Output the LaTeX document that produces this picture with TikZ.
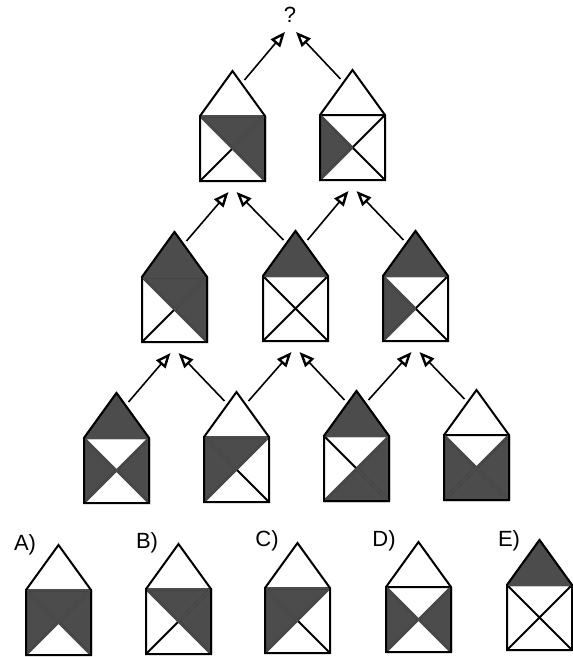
\documentclass[tikz,border=0pt]{standalone}
\usepackage{fontspec}
\setmainfont{Liberation Sans}
\usetikzlibrary{arrows.meta}

\colorlet{dark}{black!70}
\tikzset{
  wt/.style={fill=white},
  dk/.style={fill=dark},
  wt rim/.style={},
  dk rim/.style={draw=dark, line width=2pt, line join=round},
  edge/.style={line width=2pt, line join=miter},
  arr/.style={line width=1.6pt, -{Triangle[open,length=15pt,width=12pt,line width=2.4pt]}},
  lbl/.style={font=\fontsize{22}{24}\selectfont, inner sep=0pt}
}

% #1 name, #2 left, #3 top of square, #4 roof, #5 top, #6 right, #7 bottom, #8 left
\newcommand{\house}[8]{%
\begin{scope}[shift={(#2,#3)}]
\path[#4] (0,0) -- (32.5,-45) -- (65,0) -- cycle;
\path[#5] (0,0) -- (65,0) -- (32.5,32.5) -- cycle;
\path[#6] (65,0) -- (65,65) -- (32.5,32.5) -- cycle;
\path[#7] (0,65) -- (65,65) -- (32.5,32.5) -- cycle;
\path[#8] (0,0) -- (0,65) -- (32.5,32.5) -- cycle;
\draw[edge] (0,0) -- (65,65) (65,0) -- (0,65) (0,0) -- (65,0);
\path[#4 rim] (0,0) -- (32.5,-45) -- (65,0) -- cycle;
\path[#5 rim] (0,0) -- (65,0) -- (32.5,32.5) -- cycle;
\path[#6 rim] (65,0) -- (65,65) -- (32.5,32.5) -- cycle;
\path[#7 rim] (0,65) -- (65,65) -- (32.5,32.5) -- cycle;
\path[#8 rim] (0,0) -- (0,65) -- (32.5,32.5) -- cycle;
\draw[edge] (65,0) -- (32.5,-45) -- (0,0) -- (0,65) -- (65,65) -- (65,0) -- (32.5,-45);
\coordinate (#1-sl) at (20.5,-36);
\coordinate (#1-sr) at (44.5,-36);
\coordinate (#1-tl) at (28.5,76);
\coordinate (#1-tr) at (36.5,76);
\end{scope}}

\begin{document}
\begin{tikzpicture}[x=1pt,y=-1pt]
\useasboundingbox (0,0) rectangle (573,657);

\node[lbl] (q) at (290,15) {?};

\house{h1a}{200}{116}{wt}{dk}{dk}{wt}{wt}
\house{h1b}{320}{115}{wt}{wt}{wt}{wt}{dk}

\house{h2a}{142}{277}{dk}{dk}{dk}{wt}{wt}
\house{h2b}{263}{276}{dk}{wt}{wt}{wt}{wt}
\house{h2c}{383}{276}{dk}{wt}{wt}{wt}{dk}

\house{h3a}{84}{438}{dk}{wt}{dk}{wt}{dk}
\house{h3b}{204}{437}{wt}{dk}{wt}{wt}{dk}
\house{h3c}{324}{436}{dk}{wt}{dk}{dk}{wt}
\house{h3d}{444}{435}{wt}{wt}{dk}{dk}{dk}

\draw[arr] (h1a-sr) -- ([xshift=-5pt,yshift=-9pt]q.south);
\draw[arr] (h1b-sl) -- ([xshift=6pt,yshift=-9pt]q.south);

\draw[arr] (h2a-sr) -- (h1a-tl);
\draw[arr] (h2b-sl) -- (h1a-tr);
\draw[arr] (h2b-sr) -- (h1b-tl);
\draw[arr] (h2c-sl) -- (h1b-tr);

\draw[arr] (h3a-sr) -- (h2a-tl);
\draw[arr] (h3b-sl) -- (h2a-tr);
\draw[arr] (h3b-sr) -- (h2b-tl);
\draw[arr] (h3c-sl) -- (h2b-tr);
\draw[arr] (h3c-sr) -- (h2c-tl);
\draw[arr] (h3d-sl) -- (h2c-tr);

% answers
\node[lbl] (la) at (25,545) {A)};
\node[lbl] (lb) at (147,543) {B)};
\node[lbl] (lc) at (267,541) {C)};
\node[lbl] (ld) at (384,541) {D)};
\node[lbl] (le) at (509,541) {E)};

\house{oa}{26}{590}{wt}{dk}{dk}{wt}{dk}
\house{ob}{146}{589}{wt}{dk}{dk}{wt}{wt}
\house{oc}{265}{588}{wt}{dk}{wt}{wt}{dk}
\house{od}{386}{587}{wt}{wt}{dk}{wt}{dk}
\house{oe}{507}{585}{dk}{wt}{wt}{wt}{wt}
\end{tikzpicture}
\end{document}
